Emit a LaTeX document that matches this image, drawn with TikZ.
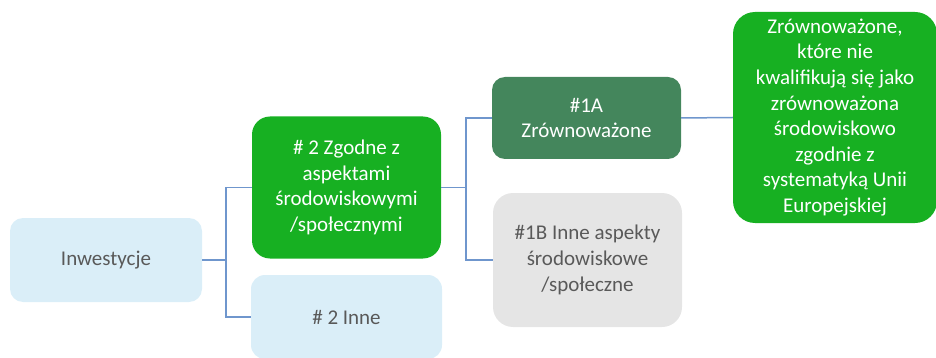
\documentclass[tikz,border=0pt]{standalone}
\usepackage{fontspec}
\setmainfont{Carlito}
\usetikzlibrary{calc}
\definecolor{lblue}{HTML}{DAEEF8}
\definecolor{bgreen}{HTML}{17B022}
\definecolor{dgreen}{HTML}{44865C}
\definecolor{lgray}{HTML}{E5E5E5}
\definecolor{tgray}{HTML}{595959}
\definecolor{conn}{HTML}{6F96CD}
\begin{document}
\begin{tikzpicture}[x=1pt,y=-1pt,
  box/.style={rectangle, rounded corners=#1, inner sep=0pt, align=center,
    font=\fontsize{21}{25.6}\selectfont},
  box/.default=14pt,
  lightbox/.style={fill=lblue, text=tgray},
  greenbox/.style={fill=bgreen, text=white},
  darkbox/.style={fill=dgreen, text=white},
  graybox/.style={fill=lgray, text=tgray},
  link/.style={draw=conn, line width=1.5pt}]
\useasboundingbox (0,0) rectangle (936,358);
\node[box=13pt, lightbox, minimum width=192pt, minimum height=84pt] (inw) at (106,260) {Inwestycje};
\node[box=18pt, greenbox, minimum width=189pt, minimum height=142pt] (zg) at (346.5,187.5) {\# 2 Zgodne z\\aspektami\\środowiskowymi\\/społecznymi};
\node[box=14pt, lightbox, minimum width=191pt, minimum height=84pt] (inne) at (346.5,317) {\# 2 Inne};
\node[box=13pt, darkbox, minimum width=189pt, minimum height=82pt] (a1) at (586.5,118) {\#1A\\Zrównoważone};
\node[box=20pt, graybox, minimum width=189pt, minimum height=134pt] (b1) at (587.5,260) {\#1B Inne aspekty\\środowiskowe\\/społeczne};
\node[box=22pt, greenbox, minimum width=204pt, minimum height=211pt] (big) at (835,117.5) {Zrównoważone,\\które nie\\kwalifikują się jako\\zrównoważona\\środowiskowo\\zgodnie z\\systematyką Unii\\Europejskiej};
\coordinate (j1) at ($(inw.east)+(24,0)$);
\coordinate (j2) at ($(zg.east)+(25,0)$);
\draw[link] (inw.east) -- (j1) |- (zg.west);
\draw[link] (j1) |- (inne.west);
\draw[link] (zg.east) -- (j2) |- (a1.west);
\draw[link] (j2) |- (b1.west);
\draw[link] (a1.east) -- (big.west);
\end{tikzpicture}
\end{document}
